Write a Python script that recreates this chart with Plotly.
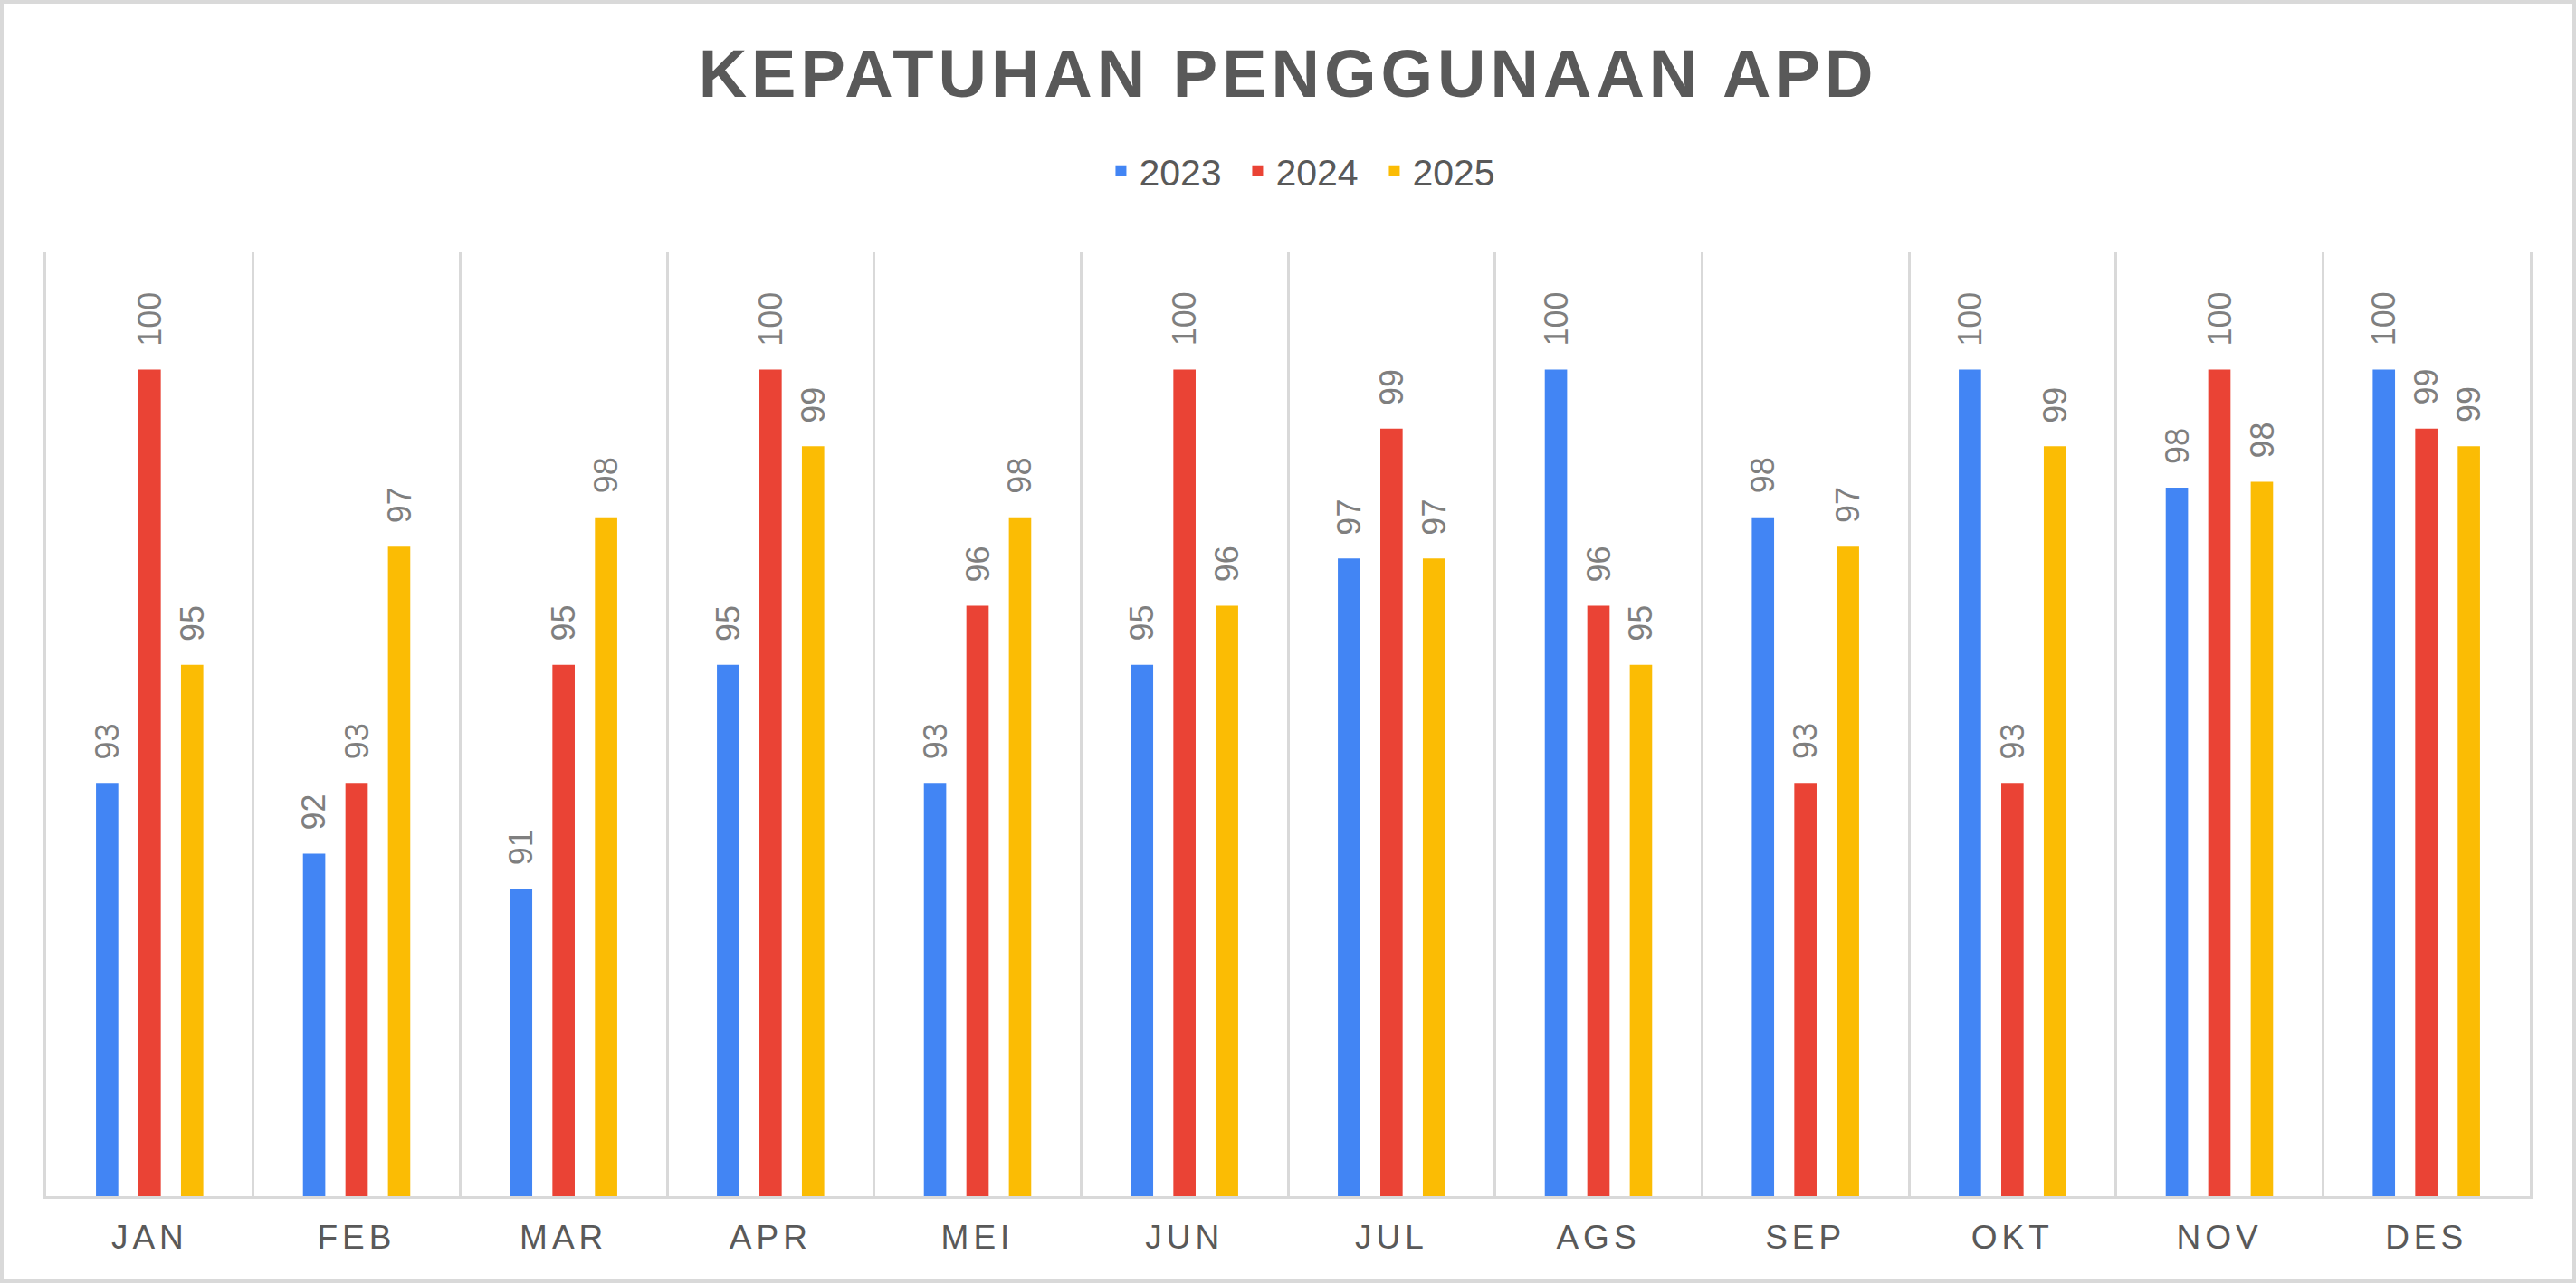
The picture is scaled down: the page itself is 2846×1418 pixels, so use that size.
import plotly.graph_objects as go

months = ["JAN", "FEB", "MAR", "APR", "MEI", "JUN", "JUL", "AGS", "SEP", "OKT", "NOV", "DES"]
years = ["2023", "2024", "2025"]
y2023 = [93.0, 91.8, 91.2, 95.0, 93.0, 95.0, 96.8, 100.0, 97.5, 100.0, 98.0, 100.0]
y2024 = [100.0, 93.0, 95.0, 100.0, 96.0, 100.0, 99.0, 96.0, 93.0, 93.0, 100.0, 99.0]
y2025 = [95.0, 97.0, 97.5, 98.7, 97.5, 96.0, 96.8, 95.0, 97.0, 98.7, 98.1, 98.7]
colors = ["#4285F4", "#EA4335", "#FBBC04"]

W, H = 2846, 1418
ml, mr, mt, mb = 51, 51, 278, 96
pw, ph = W - ml - mr, H - mt - mb
font = "Liberation Sans, Arial, sans-serif"

fig = go.Figure()
series = [y2023, y2024, y2025]
for i in range(3):
    fig.add_trace(go.Bar(x=months, y=series[i], name=years[i],
                         marker=dict(color=colors[i], line=dict(width=0))))

# data labels, rotated, above each bar
annotations = []
for i in range(3):
    for m, v in zip(months, series[i]):
        annotations.append(dict(x=m, y=v, xref="x", yref="y", text=f"{v:.0f}",
                                showarrow=False, textangle=-90, yanchor="bottom",
                                xshift=(i - 1) * 47, yshift=24,
                                font=dict(family=font, size=36, color="#7f7f7f")))

fig.update_layout(
    width=W, height=H,
    margin=dict(l=ml, r=mr, t=mt, b=mb),
    paper_bgcolor="white", plot_bgcolor="white",
    barmode="group", bargap=0.384, bargroupgap=0.475,
    title=dict(text="KEPATUHAN PENGGUNAAN APD", x=0.5, xanchor="center",
               y=1 - 81 / H, yanchor="middle",
               font=dict(family=font, size=74, color="#595959", weight="bold")),
    legend=dict(orientation="h", x=0.508, xanchor="center", y=1 + (278 - 189) / ph,
                yanchor="middle", entrywidth=106, entrywidthmode="pixels",
                font=dict(family=font, size=41, color="#595959")),
    annotations=annotations,
    shapes=[dict(type="rect", xref="paper", yref="paper",
                 x0=(2 - ml) / pw, x1=(W - 2 - ml) / pw,
                 y0=-(mb - 2) / ph, y1=1 + (mt - 2) / ph,
                 line=dict(color="#d9d9d9", width=4))],
)
fig.update_xaxes(type="category", range=[-0.5, 11.5], tickson="boundaries", ticks="",
                 showgrid=True, gridcolor="#d9d9d9", gridwidth=2.5,
                 showline=True, linecolor="#d9d9d9", linewidth=3,
                 ticklabelstandoff=11,
                 tickfont=dict(family=font, size=37, color="#595959"))
fig.update_yaxes(range=[86, 102], showgrid=False, zeroline=False, showticklabels=False,
                 showline=True, mirror=True, linecolor="#d9d9d9", linewidth=2.5, ticks="")

post = """
document.body.style.margin='0';
document.body.style.overflow='hidden';
var gd = document.getElementById('{plot_id}');
function spacing() {
  gd.querySelectorAll('.gtitle').forEach(function(e){ e.style.letterSpacing='5px'; });
  gd.querySelectorAll('.xtick text').forEach(function(e){ e.style.letterSpacing='5px'; });
}
spacing();
gd.on('plotly_afterplot', spacing);
"""
fig.write_html("out.html", post_script=post, config={"displayModeBar": False})
